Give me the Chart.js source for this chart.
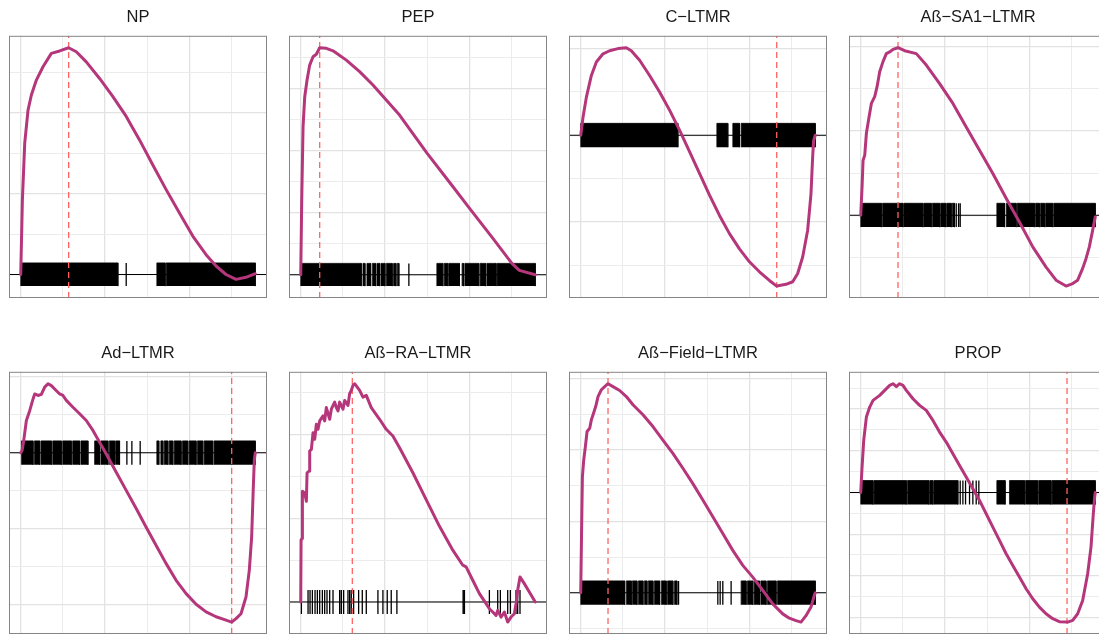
<!DOCTYPE html>
<html>
<head>
<meta charset="utf-8">
<script src="https://cdn.jsdelivr.net/npm/chart.js@4.4.1/dist/chart.umd.min.js"></script>
<style>
    html, body { margin: 0; padding: 0; background: #fff; width: 1099px; height: 634px; overflow: hidden; }
    .panel { position: absolute; }
</style>
</head>
<body>
<script>
// GSEA running enrichment score panels (rank in gene list vs running ES)

const nGenes = 13900;
const xBreaks = [0, 2500, 5000, 7500, 10000, 12500];

const titles = ['NP', 'PEP', 'C\u2212LTMR', 'A\u00df\u2212SA1\u2212LTMR',
                'Ad\u2212LTMR', 'A\u00df\u2212RA\u2212LTMR', 'A\u00df\u2212Field\u2212LTMR', 'PROP'];

// rank of the max |ES| (red dashed line)
const peakRank = [2840, 1124, 11615, 2209, 12502, 3057, 1617, 12226];

// y grid step per panel
const gridStep = [0.1, 0.1, 0.1, 0.1, 0.1, 0.1, 0.1, 0.05];

// running ES curves: [rank, ES]
const npCurve = [[0,0],[99,0.185],[237,0.325],[434,0.407],[631,0.444],[927,0.481],[1321,0.514],[1814,0.547],[2307,0.553],[2840,0.561],[3293,0.551],[3885,0.526],[4674,0.485],[5462,0.44],[6251,0.391],[7040,0.333],[7829,0.271],[8618,0.21],[9406,0.152],[10195,0.095],[10984,0.049],[11576,0.021],[12167,0],[12759,-0.012],[13350,-0.007],[13900,0.002]];
const pepCurve = [[0,0],[59,0.241],[138,0.477],[237,0.573],[375,0.627],[532,0.675],[730,0.702],[927,0.71],[1124,0.731],[1518,0.729],[1913,0.721],[2702,0.691],[3490,0.654],[4279,0.611],[5068,0.563],[5857,0.514],[7494,0.391],[9012,0.284],[10018,0.213],[11378,0.118],[12502,0.0375],[12956,0.014],[13900,0]];
const cltmrCurve = [[0,0],[138,0.042],[335,0.088],[631,0.138],[927,0.169],[1321,0.188],[1716,0.195],[2209,0.2],[2702,0.202],[2997,0.195],[3490,0.173],[4082,0.138],[4674,0.1],[5265,0.058],[5857,0.012],[6448,-0.038],[7040,-0.088],[7632,-0.138],[8223,-0.185],[8815,-0.227],[9406,-0.262],[9998,-0.292],[10590,-0.315],[11181,-0.335],[11615,-0.348],[12167,-0.344],[12562,-0.338],[12857,-0.319],[13153,-0.281],[13449,-0.219],[13646,-0.135],[13745,-0.05],[13804,-0.012],[13900,0]];
const sa1Curve = [[0,0],[79,0.067],[138,0.13],[237,0.142],[335,0.194],[493,0.233],[631,0.265],[828,0.281],[966,0.304],[1124,0.34],[1321,0.364],[1518,0.383],[1716,0.387],[1913,0.393],[2209,0.397],[2603,0.39],[3293,0.383],[3885,0.356],[4674,0.312],[5462,0.265],[6251,0.209],[7040,0.154],[7829,0.099],[8618,0.04],[9406,-0.016],[10195,-0.075],[10984,-0.123],[11576,-0.154],[12167,-0.168],[12562,-0.162],[12857,-0.154],[13153,-0.126],[13350,-0.103],[13547,-0.075],[13744,-0.036],[13900,-0.004]];
const adCurve = [[0,0],[79,0.006],[177,0.032],[335,0.085],[532,0.111],[730,0.142],[828,0.155],[1025,0.151],[1223,0.154],[1420,0.173],[1617,0.182],[1814,0.177],[2011,0.168],[2307,0.155],[2504,0.151],[2702,0.138],[3096,0.12],[3490,0.103],[3885,0.085],[4279,0.059],[4674,0.028],[5068,-0.003],[5660,-0.051],[6251,-0.099],[6843,-0.147],[7434,-0.196],[8026,-0.244],[8618,-0.292],[9209,-0.336],[9801,-0.371],[10392,-0.399],[10984,-0.419],[11576,-0.432],[12167,-0.441],[12502,-0.446],[12759,-0.437],[13054,-0.424],[13350,-0.38],[13547,-0.309],[13685,-0.222],[13784,-0.09],[13843,-0.02],[13900,0]];
const raCurve = [[0,0],[20,0.148],[79,0.152],[99,0.265],[237,0.261],[335,0.241],[375,0.309],[493,0.313],[532,0.361],[631,0.365],[730,0.405],[828,0.389],[927,0.425],[1025,0.413],[1124,0.433],[1321,0.445],[1420,0.433],[1518,0.465],[1716,0.437],[1814,0.461],[2011,0.478],[2110,0.465],[2209,0.457],[2307,0.478],[2504,0.461],[2603,0.482],[2800,0.47],[2899,0.498],[2997,0.506],[3096,0.518],[3195,0.522],[3490,0.506],[3688,0.49],[3885,0.494],[4181,0.465],[4674,0.437],[5068,0.413],[5462,0.397],[5857,0.369],[6646,0.309],[7434,0.245],[8223,0.181],[9012,0.124],[9604,0.088],[9801,0.084],[10195,0.052],[10590,0.02],[10984,-0.004],[11181,-0.016],[11378,-0.024],[11576,-0.032],[11674,-0.02],[11871,-0.036],[12069,-0.024],[12266,-0.048],[12463,-0.036],[12660,-0.028],[12759,-0.004],[12857,0.028],[12995,0.06],[13251,0.044],[13547,0.024],[13900,0]];
const fieldCurve = [[0,0],[59,0.203],[99,0.325],[177,0.372],[276,0.41],[375,0.452],[532,0.461],[631,0.485],[730,0.499],[887,0.522],[1025,0.55],[1223,0.569],[1420,0.578],[1617,0.586],[1913,0.578],[2307,0.567],[2702,0.55],[3096,0.527],[3688,0.499],[4279,0.466],[4871,0.428],[5462,0.391],[6054,0.349],[6646,0.306],[7237,0.26],[7829,0.213],[8420,0.166],[9012,0.119],[9604,0.077],[10195,0.044],[10787,0.007],[11378,-0.031],[11970,-0.059],[12364,-0.071],[12759,-0.078],[13054,-0.082],[13350,-0.064],[13646,-0.04],[13843,-0.007],[13900,0]];
const propCurve = [[0,0],[79,0.061],[177,0.125],[335,0.181],[532,0.205],[730,0.221],[927,0.227],[1124,0.233],[1420,0.245],[1716,0.257],[1913,0.261],[2110,0.254],[2307,0.261],[2504,0.257],[2702,0.245],[3096,0.225],[3490,0.209],[3885,0.197],[4279,0.173],[4674,0.145],[5068,0.121],[5462,0.093],[5857,0.065],[6251,0.037],[6646,0.009],[7040,-0.019],[7434,-0.051],[7829,-0.083],[8223,-0.115],[8618,-0.147],[9012,-0.175],[9406,-0.203],[9801,-0.231],[10195,-0.255],[10590,-0.275],[10984,-0.291],[11378,-0.303],[11773,-0.31],[12266,-0.311],[12562,-0.307],[12857,-0.291],[13153,-0.259],[13449,-0.195],[13646,-0.131],[13784,-0.051],[13863,-0.011],[13900,0]];

// gene set hits: dense runs [from, to] and single hits (rank)
const npRuns = [[0,5758],[8065,8558],[8618,13900]];
const npHits = [6251];
const pepRuns = [[0,3589],[3688,3806],[3924,4141],[4240,4437],[4516,4674],[4753,4989],[5068,5423],[5502,5640],[5719,5817],[8065,8420],[8499,8716],[8775,9406],[9564,9643],[9722,10550],[10629,10945],[11024,11576],[11635,13900]];
const pepHits = [6409];
const cltmrRuns = [[0,5758],[8065,8716],[9012,9406],[9505,13900]];
const cltmrHits = [];
const sa1Runs = [[0,1223],[1282,2504],[2564,3688],[3747,4181],[4240,4674],[4733,5029],[5088,5364],[5423,5561],[8065,8519],[8618,9209],[9268,10294],[10353,10590],[10649,10886],[10945,11378],[11438,13900]];
const sa1Hits = [5660,5798,5896];
const adRuns = [[39,730],[809,1124],[1203,1814],[1893,2406],[2485,2997],[3076,3490],[3569,3983],[4378,4674],[4753,5167],[5246,5561],[5620,5857],[8065,8184],[8302,8420],[8499,8716],[8795,9012],[9091,9505],[9584,9899],[9978,10392],[10471,10787],[10866,11378],[11457,13900]];
const adHits = [6291,6587,7079];
const raRuns = [];
const raHits = [39,434,552,690,848,986,1124,1282,1420,1558,1716,1913,2307,2406,2544,2800,2899,2997,3135,3431,3648,3885,4575,4871,5127,5364,5699,9623,9702,11181,11674,11832,12266,12424,12759,12857,12995];
const fieldRuns = [[0,2603],[2702,2997],[3057,3333],[3412,3688],[3767,3924],[4003,4279],[4358,4674],[4772,5068],[5147,5462],[5561,5699],[9505,9801],[9880,10195],[10274,10590],[10669,10984],[11063,11576],[11654,13900]];
const fieldHits = [5798,8125,8263,8420,8913];
const propRuns = [[0,730],[789,2702],[2761,4043],[4102,4279],[4338,5758],[8065,8558],[8815,9702],[9761,10491],[10550,11280],[11339,13900]];
const propHits = [5896,6054,6212,6448,6646,6843,7000];

const curves = [npCurve, pepCurve, cltmrCurve, sa1Curve, adCurve, raCurve, fieldCurve, propCurve];
const runs = [npRuns, pepRuns, cltmrRuns, sa1Runs, adRuns, raRuns, fieldRuns, propRuns];
const hits = [npHits, pepHits, cltmrHits, sa1Hits, adHits, raHits, fieldHits, propHits];

const curveColor = '#b5367a';
const peakColor = '#ff6363';

// panel border drawn on top of everything
const frame = {
    id: 'frame',
    afterDraw(chart) {
        const a = chart.chartArea;
        const c = chart.ctx;
        c.save();
        c.strokeStyle = '#858585';
        c.lineWidth = 1;
        c.strokeRect(a.left + 0.5, a.top + 0.5, a.right - a.left - 1, a.bottom - a.top - 1);
        c.restore();
    }
};

function isMajor(v, step) {
    const k = v / (2 * step);
    return Math.abs(k - Math.round(k)) < 1e-6;
}

function makePanel(i) {
    const curve = curves[i];
    const es = curve.map(p => p[1]);
    const esMax = Math.max(...es), esMin = Math.min(...es);
    const h = (esMax - esMin) / 20;
    const lo = Math.min(esMin, -h), hi = Math.max(esMax, h);
    const pad = (hi - lo) * 0.05;
    const step = gridStep[i];

    const datasets = [];
    datasets.push({
        data: curve.map(p => ({ x: p[0], y: p[1] })),
        borderColor: curveColor, borderWidth: 3, borderJoinStyle: 'round', borderCapStyle: 'round',
        order: 0
    });
    datasets.push({
        data: [{ x: peakRank[i], y: lo - pad }, { x: peakRank[i], y: hi + pad }],
        borderColor: peakColor, borderWidth: 1.3, borderDash: [6, 4],
        order: 1
    });
    runs[i].forEach(r => {
        datasets.push({
            data: [{ x: r[0], y: -h }, { x: r[0], y: h }, { x: r[1], y: h }, { x: r[1], y: -h }],
            borderColor: '#000', borderWidth: 0.8, backgroundColor: '#000',
            fill: { value: -h },
            order: 2
        });
    });
    if (hits[i].length) {
        datasets.push({
            data: hits[i].flatMap(p => [{ x: p, y: -h }, { x: p, y: h }, { x: p, y: null }]),
            borderColor: '#000', borderWidth: 1.3, spanGaps: false,
            order: 2
        });
    }
    datasets.push({
        data: [{ x: -0.05 * nGenes, y: 0 }, { x: 1.05 * nGenes, y: 0 }],
        borderColor: '#000', borderWidth: 1.1,
        order: 3
    });

    const col = i % 4, row = Math.floor(i / 4);
    const box = document.createElement('div');
    box.className = 'panel';
    box.style.left = (9 + col * 280) + 'px';
    box.style.top = (row === 0 ? 0 : 336) + 'px';
    const canvas = document.createElement('canvas');
    canvas.width = 258;
    canvas.height = 298;
    box.appendChild(canvas);
    document.body.appendChild(box);

    const gridOpts = {
        drawTicks: false,
        color: c => (c.tick && isMajor(c.tick.value, c.scale.axis === 'x' ? 2500 : step)) ? '#e2e2e2' : '#ececec',
        lineWidth: c => (c.tick && isMajor(c.tick.value, c.scale.axis === 'x' ? 2500 : step)) ? 1.3 : 1
    };

    new Chart(canvas, {
        type: 'scatter',
        data: { datasets: datasets.map(d => Object.assign({ showLine: true, pointRadius: 0, pointHoverRadius: 0 }, d)) },
        options: {
            responsive: false,
            animation: false,
            devicePixelRatio: 1,
            events: [],
            layout: { padding: 0 },
            plugins: {
                legend: { display: false },
                tooltip: { enabled: false },
                title: {
                    display: true,
                    text: titles[i],
                    color: '#1a1a1a',
                    font: { family: "'Liberation Sans', Arial, sans-serif", size: 16.5, weight: 'normal' },
                    padding: { top: 8, bottom: 8 }
                }
            },
            scales: {
                x: {
                    type: 'linear',
                    min: -0.05 * nGenes,
                    max: 1.05 * nGenes,
                    ticks: { display: false },
                    border: { display: false },
                    grid: gridOpts,
                    afterBuildTicks: axis => { axis.ticks = xBreaks.map(v => ({ value: v })); }
                },
                y: {
                    type: 'linear',
                    min: lo - pad,
                    max: hi + pad,
                    ticks: { display: false },
                    border: { display: false },
                    grid: gridOpts,
                    afterBuildTicks: axis => {
                        const t = [];
                        for (let k = Math.ceil((lo - pad) / step); k * step <= hi + pad; k++) {
                            t.push({ value: +(k * step).toFixed(4) });
                        }
                        axis.ticks = t;
                    }
                }
            }
        },
        plugins: [frame]
    });
}

for (let i = 0; i < 8; i++) makePanel(i);
</script>
</body>
</html>
